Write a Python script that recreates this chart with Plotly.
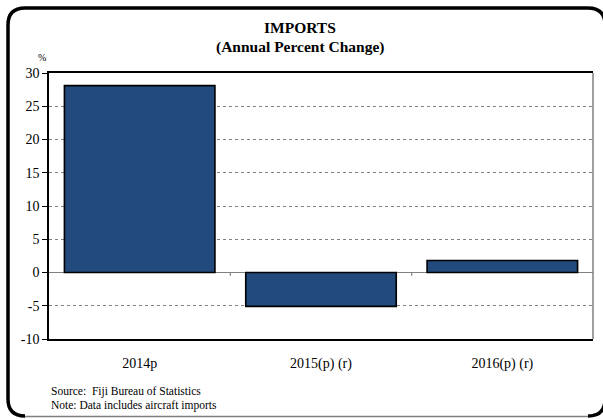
import plotly.graph_objects as go

categories = ["2014p", "2015(p) (r)", "2016(p) (r)"]
values = [28.1, -5.1, 1.8]
y_ticks = [-10, -5, 0, 5, 10, 15, 20, 25, 30]
y_tick_labels = ["-10", "-5", "0", "5", "10", "15", "20", "25", "30"]

W, H = 603, 419
L, R, T, B = 49, 593, 73, 339

def px(x):
    return (x - L) / (R - L)

def py(y):
    return (B - y) / (B - T)

FONT = "Liberation Serif, Times New Roman, serif"

fig = go.Figure()
fig.add_trace(go.Bar(
    x=categories, y=values, width=0.83,
    marker=dict(color="#234A7C", line=dict(color="black", width=1.6)),
))

shapes = []
# frame: rounded, thick black on top/left/right, grey bottom
x0, x1, y0, y1, r = 8, 605, 8, 416, 17
path = (f"M {px(x0+r)} {py(y1)} Q {px(x0)} {py(y1)} {px(x0)} {py(y1-r)} "
        f"L {px(x0)} {py(y0+r)} Q {px(x0)} {py(y0)} {px(x0+r)} {py(y0)} "
        f"L {px(x1-r)} {py(y0)} Q {px(x1)} {py(y0)} {px(x1)} {py(y0+r)} "
        f"L {px(x1)} {py(y1-r)} Q {px(x1)} {py(y1)} {px(x1-r)} {py(y1)}")
shapes.append(dict(type="path", xref="paper", yref="paper", path=path,
                   line=dict(color="black", width=3.5)))
shapes.append(dict(type="line", xref="paper", yref="paper",
                   x0=px(x0+r), x1=px(x1-r), y0=py(y1+0.5), y1=py(y1+0.5),
                   line=dict(color="#808080", width=1.5)))
# right border of plot (grey)
shapes.append(dict(type="line", xref="paper", yref="paper", x0=1, x1=1, y0=0, y1=1,
                   line=dict(color="#808080", width=1.5)))
# category divider ticks on the zero line
for xd in [0.5, 1.5]:
    shapes.append(dict(type="line", xref="x", yref="y", x0=xd, x1=xd, y0=0, y1=-0.5,
                       line=dict(color="#808080", width=1.2)))

def ann(text, x, y, size, xanchor="center"):
    return dict(text=text, x=px(x), y=py(y), xref="paper", yref="paper",
                xanchor=xanchor, yanchor="middle", showarrow=False,
                font=dict(family=FONT, size=size, color="black"))

annotations = [
    ann("<b>IMPORTS</b>", 300, 27.5, 15.5),
    ann("<b>(Annual Percent Change)</b>", 300, 46.5, 15.5),
    ann("%", 42, 57, 10),
    ann("Source:  Fiji Bureau of Statistics", 49, 391.5, 11.5, "left"),
    ann("Note: Data includes aircraft imports", 49, 405, 11.5, "left"),
]

fig.update_layout(
    width=W, height=H,
    margin=dict(l=L, r=W - R, t=T, b=H - B, pad=0),
    paper_bgcolor="white", plot_bgcolor="white",
    showlegend=False, bargap=0.17,
    font=dict(family=FONT, size=14, color="black"),
    shapes=shapes, annotations=annotations,
    xaxis=dict(showline=True, linecolor="black", linewidth=1.5, mirror=True,
               showgrid=False, ticks="", ticklabelstandoff=10,
               tickfont=dict(family=FONT, size=14, color="black")),
    yaxis=dict(range=[-10, 30], tickvals=y_ticks, ticktext=y_tick_labels, showline=True,
               linecolor="black", linewidth=1.5, mirror=False, ticks="outside", ticklen=5,
               tickcolor="black", tickwidth=1.2, showgrid=True, gridcolor="#7f7f7f",
               griddash="dot", gridwidth=1,
               zeroline=True, zerolinecolor="#808080", zerolinewidth=1.2,
               tickfont=dict(family=FONT, size=14, color="black")),
)

fig.write_html("out.html", config={"displayModeBar": False},
               post_script="document.body.style.margin='0px';document.body.style.overflow='hidden';")
